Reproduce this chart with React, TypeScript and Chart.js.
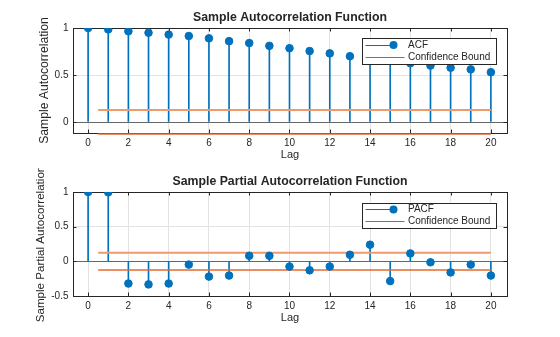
import React, { useEffect, useRef } from 'react';
import { Chart, registerables } from 'chart.js';

Chart.register(...registerables);

// ---- Data ----
const lags = [0, 1, 2, 3, 4, 5, 6, 7, 8, 9, 10, 11, 12, 13, 14, 15, 16, 17, 18, 19, 20];
const xTickValues = [0, 2, 4, 6, 8, 10, 12, 14, 16, 18, 20];

const acfValues = [1.0, 0.985, 0.965, 0.95, 0.93, 0.915, 0.89, 0.86, 0.84, 0.81, 0.785, 0.755, 0.73, 0.70, 0.68, 0.665, 0.625, 0.60, 0.578, 0.56, 0.53];
const acfBound = 0.128;
const acfYTicks = [0, 0.5, 1];

const pacfValues = [1.0, 0.995, -0.32, -0.333, -0.32, -0.047, -0.22, -0.205, 0.08, 0.08, -0.076, -0.13, -0.076, 0.095, 0.24, -0.285, 0.114, -0.014, -0.16, -0.047, -0.205];
const pacfBound = 0.125;
const pacfYTicks = [-0.5, 0, 0.5, 1];

const boundStart = 0.5;
const boundEnd = 20;

// ---- Style ----
const BLUE = '#0072BD';
const ORANGE = '#D95319';
const AXIS = '#262626';
const FONT = "'Liberation Sans', Arial, Helvetica, sans-serif";

type PanelCfg = {
  title: string;
  yTitle: string;
  seriesLabel: string;
  values: number[];
  bound: number;
  yTicks: number[];
  yMin: number;
  yMax: number;
  height: number;
  titlePad: { top: number; bottom: number };
  xScaleHeight: number;
  xTickPad: number;
  xTitlePadBottom: number;
  yTitlePadTop: number;
  yTitleSize: number;
  legend: { x: number; y: number; w: number; h: number };
};

const framePlugin = {
  id: 'frameTicks',
  beforeDatasetsDraw(chart: any) {
    const { ctx, chartArea: a, scales } = chart;
    const xs = scales.x;
    const ys = scales.y;
    ctx.save();
    ctx.strokeStyle = AXIS;
    ctx.lineWidth = 1;
    ctx.strokeRect(Math.round(a.left) + 0.5, Math.round(a.top) + 0.5, Math.round(a.right - a.left), Math.round(a.bottom - a.top));
    const tl = 3.5;
    ctx.beginPath();
    xTickValues.forEach((v) => {
      const px = Math.round(xs.getPixelForValue(v)) + 0.5;
      ctx.moveTo(px, a.bottom);
      ctx.lineTo(px, a.bottom - tl);
      ctx.moveTo(px, a.top);
      ctx.lineTo(px, a.top + tl);
    });
    (chart.options.plugins.frameTicks.yTicks as number[]).forEach((v) => {
      const py = Math.round(ys.getPixelForValue(v)) + 0.5;
      ctx.moveTo(a.left, py);
      ctx.lineTo(a.left + tl, py);
      ctx.moveTo(a.right, py);
      ctx.lineTo(a.right - tl, py);
    });
    ctx.stroke();
    ctx.restore();
  },
  afterDatasetsDraw(chart: any) {
    const { ctx } = chart;
    const lg = chart.options.plugins.frameTicks.legend;
    const ds = chart.data.datasets;
    ctx.save();
    ctx.fillStyle = '#ffffff';
    ctx.fillRect(lg.x, lg.y, lg.w, lg.h);
    ctx.strokeStyle = AXIS;
    ctx.lineWidth = 1;
    ctx.strokeRect(Math.round(lg.x) + 0.5, Math.round(lg.y) + 0.5, Math.round(lg.w), Math.round(lg.h));
    const y1 = lg.y + 6.5;
    const y2 = lg.y + 18.5;
    const lx0 = lg.x + 3.5;
    // series entry
    ctx.strokeStyle = BLUE;
    ctx.beginPath();
    ctx.moveTo(lx0, Math.round(y1) + 0.5);
    ctx.lineTo(lx0 + 28, Math.round(y1) + 0.5);
    ctx.stroke();
    ctx.fillStyle = BLUE;
    ctx.beginPath();
    ctx.arc(lx0 + 28, y1 + 0.5, 4, 0, Math.PI * 2);
    ctx.fill();
    // bound entry
    ctx.strokeStyle = ORANGE;
    ctx.beginPath();
    ctx.moveTo(lx0, Math.round(y2) + 0.5);
    ctx.lineTo(lx0 + 39, Math.round(y2) + 0.5);
    ctx.stroke();
    ctx.fillStyle = AXIS;
    ctx.font = `10px ${FONT}`;
    ctx.textBaseline = 'middle';
    ctx.textAlign = 'left';
    ctx.fillText(ds[0].label, lx0 + 42.5, y1 + 0.5);
    ctx.fillText(ds[2].label, lx0 + 42.5, y2 + 0.5);
    ctx.restore();
  },
};

function makeConfig(p: PanelCfg): any {
  const stemData = lags.map((x, i) => ({ x, y: p.values[i] }));
  const markerData = lags.map((x, i) => ({ x, y: p.values[i] }));
  return {
    type: 'bar',
    data: {
      datasets: [
        {
          type: 'line',
          label: p.seriesLabel,
          data: markerData,
          showLine: false,
          pointRadius: 3.8,
          pointHoverRadius: 3.8,
          pointBackgroundColor: BLUE,
          pointBorderColor: BLUE,
          pointBorderWidth: 1,
          order: 0,
        },
        {
          type: 'bar',
          label: 'stems',
          data: stemData,
          backgroundColor: BLUE,
          borderWidth: 0,
          barThickness: 1,
          grouped: false,
          order: 3,
        },
        {
          type: 'line',
          label: 'Confidence Bound',
          data: [
            { x: boundStart, y: p.bound },
            { x: boundEnd, y: p.bound },
          ],
          borderColor: '#EE9A6E',
          borderWidth: 2,
          pointRadius: 0,
          clip: false,
          order: 1,
        },
        {
          type: 'line',
          label: 'Confidence Bound Lower',
          data: [
            { x: boundStart, y: -p.bound },
            { x: boundEnd, y: -p.bound },
          ],
          borderColor: '#E4692F',
          borderWidth: 1.5,
          pointRadius: 0,
          clip: false,
          order: 1,
        },
      ],
    },
    options: {
      responsive: false,
      maintainAspectRatio: false,
      animation: false,
      devicePixelRatio: 1,
      events: [],
      layout: { padding: { left: 0, right: 53, top: 0, bottom: 0 } },
      plugins: {
        legend: { display: false },
        tooltip: { enabled: false },
        title: {
          display: true,
          text: p.title,
          fullSize: false,
          color: AXIS,
          font: { family: FONT, size: 12.3, weight: 'bold', lineHeight: 1.2 },
          padding: p.titlePad,
        },
        frameTicks: { yTicks: p.yTicks, legend: p.legend },
      },
      scales: {
        x: {
          type: 'linear',
          min: -0.75,
          max: 20.8,
          offset: false,
          afterBuildTicks: (s: any) => {
            s.ticks = xTickValues.map((v) => ({ value: v }));
          },
          afterFit: (s: any) => {
            s.height = p.xScaleHeight;
          },
          grid: { color: '#e3e3e3', drawTicks: false, offset: false },
          border: { display: false },
          ticks: {
            color: AXIS,
            padding: p.xTickPad,
            maxRotation: 0,
            autoSkip: false,
            font: { family: FONT, size: 10, lineHeight: 1.2 },
            callback: (v: number) => String(v),
          },
          title: {
            display: true,
            text: 'Lag',
            color: AXIS,
            font: { family: FONT, size: 11, lineHeight: 1.2 },
            padding: { top: 0, bottom: p.xTitlePadBottom },
          },
        },
        y: {
          type: 'linear',
          min: p.yMin,
          max: p.yMax,
          afterBuildTicks: (s: any) => {
            s.ticks = p.yTicks.map((v) => ({ value: v }));
          },
          afterFit: (s: any) => {
            s.width = 73;
          },
          grid: {
            color: (c: any) => (c.tick && c.tick.value === 0 ? '#666666' : '#e3e3e3'),
            drawTicks: false,
          },
          border: { display: false },
          ticks: {
            color: AXIS,
            padding: 4.5,
            font: { family: FONT, size: 10, lineHeight: 1.2 },
            callback: (v: number) => String(v),
          },
          title: {
            display: true,
            text: p.yTitle,
            color: AXIS,
            font: { family: FONT, size: p.yTitleSize, lineHeight: 1.2 },
            padding: { top: p.yTitlePadTop, bottom: 0 },
          },
        },
      },
    },
    plugins: [framePlugin],
  };
}

const acfPanel: PanelCfg = {
  title: 'Sample Autocorrelation Function',
  yTitle: 'Sample Autocorrelation',
  seriesLabel: 'ACF',
  values: acfValues,
  bound: acfBound,
  yTicks: acfYTicks,
  yMin: -0.117,
  yMax: 1,
  height: 168,
  titlePad: { top: 10.4, bottom: 2.84 },
  xScaleHeight: 35,
  xTickPad: 4,
  xTitlePadBottom: 6.4,
  yTitlePadTop: 37.7,
  yTitleSize: 12.2,
  legend: { x: 362, y: 38, w: 134, h: 26 },
};

const pacfPanel: PanelCfg = {
  title: 'Sample Partial Autocorrelation Function',
  yTitle: 'Sample Partial Autocorrelation',
  seriesLabel: 'PACF',
  values: pacfValues,
  bound: pacfBound,
  yTicks: pacfYTicks,
  yMin: -0.5,
  yMax: 1,
  height: 169,
  titlePad: { top: 6.1, bottom: 3.14 },
  xScaleHeight: 41,
  xTickPad: 4,
  xTitlePadBottom: 12.9,
  yTitlePadTop: 33.7,
  yTitleSize: 11.6,
  legend: { x: 362, y: 34.5, w: 134, h: 25 },
};

function Panel({ cfg, top }: { cfg: PanelCfg; top: number }) {
  const ref = useRef<HTMLCanvasElement | null>(null);
  useEffect(() => {
    if (!ref.current) return;
    const chart = new Chart(ref.current, makeConfig(cfg));
    return () => chart.destroy();
  }, [cfg]);
  return (
    <canvas
      ref={ref}
      width={560}
      height={cfg.height}
      style={{ position: 'absolute', left: 0, top, width: 560, height: cfg.height, display: 'block' }}
    />
  );
}

export default function App() {
  return (
    <div style={{ position: 'fixed', left: 0, top: 0, width: 560, height: 337, background: '#ffffff', overflow: 'hidden' }}>
      <Panel cfg={acfPanel} top={0} />
      <Panel cfg={pacfPanel} top={168} />
    </div>
  );
}
